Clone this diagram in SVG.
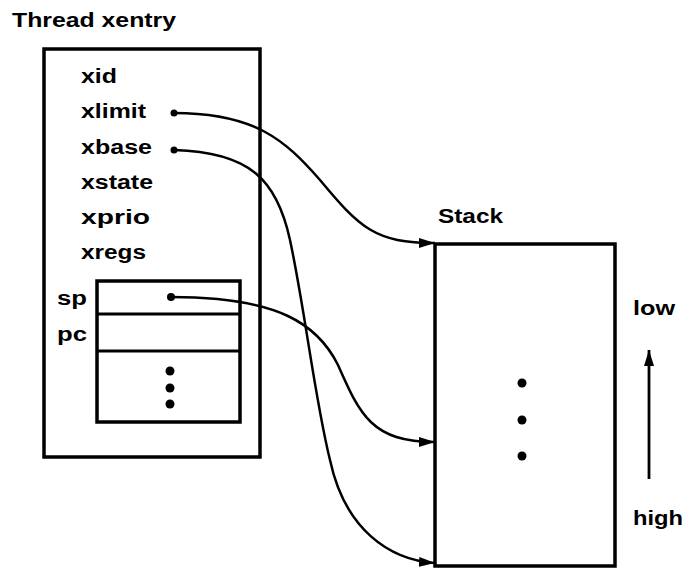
<svg xmlns="http://www.w3.org/2000/svg" width="685" height="569" viewBox="0 0 685 569">
<style>
text{font-family:"Liberation Sans",Arial,sans-serif;font-weight:bold;font-size:20px;fill:#000}
.box{fill:none;stroke:#000;stroke-width:3.5}
.line{fill:none;stroke:#000;stroke-width:2.8}
.conn{fill:none;stroke:#000;stroke-width:2.5}
.dot{fill:#000}
</style>
<defs>
<marker id="ah" viewBox="0 0 16 10" refX="16" refY="5" markerWidth="16" markerHeight="10" markerUnits="userSpaceOnUse" orient="auto">
<path d="M0,0 L16,5 L0,10 Z" fill="#000"/>
</marker>
</defs>
<rect width="685" height="569" fill="#fff"/>
<g id="thread">
<text x="12" y="27" textLength="164" lengthAdjust="spacingAndGlyphs">Thread xentry</text>
<rect class="box" x="44" y="49" width="216" height="408"/>
<text x="81" y="83" textLength="36" lengthAdjust="spacingAndGlyphs">xid</text>
<text x="81" y="118" textLength="65" lengthAdjust="spacingAndGlyphs">xlimit</text>
<text x="81" y="154" textLength="71" lengthAdjust="spacingAndGlyphs">xbase</text>
<text x="81" y="189" textLength="72" lengthAdjust="spacingAndGlyphs">xstate</text>
<text x="81" y="224" textLength="69" lengthAdjust="spacingAndGlyphs">xprio</text>
<text x="81" y="259" textLength="65" lengthAdjust="spacingAndGlyphs">xregs</text>
<circle class="dot" cx="174" cy="113" r="3.5"/>
<circle class="dot" cx="174" cy="150" r="3.5"/>
</g>
<g id="regs">
<rect class="box" x="97" y="281" width="143" height="141"/>
<line class="line" x1="97" y1="314" x2="240" y2="314"/>
<line class="line" x1="97" y1="351" x2="240" y2="351"/>
<text x="57" y="305" textLength="30" lengthAdjust="spacingAndGlyphs">sp</text>
<text x="57" y="341" textLength="30" lengthAdjust="spacingAndGlyphs">pc</text>
<circle class="dot" cx="171" cy="297" r="4"/>
<circle class="dot" cx="170" cy="371" r="4.5"/>
<circle class="dot" cx="170" cy="388" r="4.5"/>
<circle class="dot" cx="170" cy="404" r="4.5"/>
</g>
<g id="stack">
<text x="438" y="223" textLength="65" lengthAdjust="spacingAndGlyphs">Stack</text>
<rect class="box" x="435" y="244" width="180" height="322"/>
<circle class="dot" cx="522" cy="383" r="4.5"/>
<circle class="dot" cx="522" cy="420" r="4.5"/>
<circle class="dot" cx="522" cy="456" r="4.5"/>
</g>
<g id="direction">
<text x="633" y="315" textLength="42" lengthAdjust="spacingAndGlyphs">low</text>
<text x="633" y="525" textLength="50" lengthAdjust="spacingAndGlyphs">high</text>
<line class="line" x1="649" y1="479" x2="649" y2="350" marker-end="url(#ah)"/>
</g>
<g id="connectors">
<path class="conn" d="M174,113 C255,113 285,140 320,180 C360,228 375,243 435,243" marker-end="url(#ah)"/>
<path class="conn" d="M174,150 C250,152 277,180 290,240 C305,310 315,400 330,460 C345,530 390,560 435,563" marker-end="url(#ah)"/>
<path class="conn" d="M171,297 C280,297 318,325 338,365 C360,415 372,442 435,442" marker-end="url(#ah)"/>
</g>
</svg>
